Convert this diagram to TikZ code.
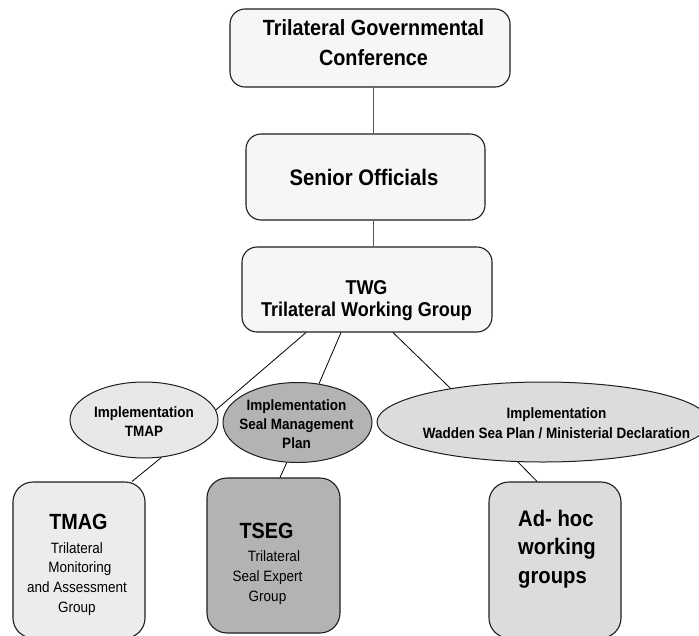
\documentclass[tikz,border=0pt]{standalone}
\usepackage{fontspec}
\setmainfont{Liberation Sans}[FakeStretch=0.9]
\usetikzlibrary{shapes.geometric}
\definecolor{boxfill}{HTML}{F6F6F6}
\definecolor{tmapfill}{HTML}{E8E8E8}
\definecolor{tmagfill}{HTML}{ECECEC}
\definecolor{sealfill}{HTML}{B3B3B3}
\definecolor{wadfill}{HTML}{DCDCDC}
\definecolor{topline}{HTML}{555555}
\definecolor{border}{HTML}{1E1E1E}
\begin{document}
\begin{tikzpicture}[x=1pt,y=-1pt,
  topbox/.style={draw=border, line width=1.1pt, rounded corners=15pt, fill=boxfill, inner sep=0pt},
  lowbox/.style={draw=border, line width=1.1pt, rounded corners=20pt, inner sep=0pt, minimum width=132pt},
  oval/.style={ellipse, draw=border, line width=1pt, inner sep=0pt},
  link/.style={line width=0.8pt, draw=black},
  toplink/.style={line width=1pt, draw=topline},
  txt/.style={anchor=base, align=center, inner sep=0pt},
  bigb/.style={font=\bfseries\fontsize{22}{30}\selectfont},
  midb/.style={font=\bfseries\fontsize{20}{21.5}\selectfont},
  smallb/.style={font=\bfseries\fontsize{15}{19}\selectfont},
  smallr/.style={font=\fontsize{15}{19.6}\selectfont}
]
\fill[white] (0,0) rectangle (699,635);
\clip (0,0) rectangle (699,635);

% boxes
\node[topbox, minimum width=280pt, minimum height=78pt] (conf) at (370,48) {};
\node[topbox, minimum width=239pt, minimum height=86pt] (sen) at (365.5,177) {};
\node[topbox, minimum width=250pt, minimum height=85pt] (twg) at (367,289.5) {};
\node[oval, fill=tmapfill, minimum width=148pt, minimum height=76pt] (tmap) at (144,420) {};
\node[oval, fill=sealfill, minimum width=149pt, minimum height=80pt] (seal) at (297.5,422.5) {};
\node[oval, fill=wadfill, minimum width=332pt, minimum height=80pt] (wad) at (543,422) {};
\node[lowbox, fill=tmagfill, minimum height=156pt] (tmag) at (79,560) {};
\node[lowbox, fill=sealfill, minimum width=133pt, minimum height=155pt] (tseg) at (273.5,555.5) {};
\node[lowbox, fill=wadfill, minimum height=156pt] (adhoc) at (555,560) {};

% connectors
\draw[toplink] ([xshift=3pt]conf.south) -- ([xshift=7.5pt]sen.north);
\draw[toplink] ([xshift=7.5pt]sen.south) -- ([xshift=6pt]twg.north);
\draw[link] ([xshift=-61pt]twg.south) -- (tmap.8);
\draw[link] ([xshift=-26pt]twg.south) -- (seal.61);
\draw[link] ([xshift=26pt]twg.south) -- (wad.160);
\draw[link] (tmap.-65) -- ([xshift=53pt]tmag.north);
\draw[link] (seal.-105) -- ([xshift=6.5pt]tseg.north);
\draw[link] (wad.-122) -- ([xshift=-18pt]adhoc.north);

% texts (anchor = baseline of the last line)
\node[txt, bigb] (conf-t) at (373.5,65) {Trilateral Governmental\\Conference};
\node[txt, font=\bfseries\fontsize{22.5}{28}\selectfont] (sen-t) at (364,185) {Senior Officials};
\node[txt, midb] (twg-t) at (366.5,316) {TWG\\Trilateral Working Group};
\node[txt, smallb] (tmap-t) at (144,436) {Implementation\\TMAP};
\node[txt, smallb] (seal-t) at (296.5,448) {Implementation\\Seal Management\\Plan};
\node[txt, font=\bfseries\fontsize{15}{20}\selectfont] (wad-t) at (556.5,438) {Implementation\hspace{19pt}\\Wadden Sea Plan / Ministerial Declaration};
\node[txt, bigb] (tmag-h) at (78.5,529) {TMAG};
\node[txt, smallr] (tmag-t) at (77,612) {Trilateral\\\hspace{6pt}Monitoring\\and Assessment\\Group};
\node[txt, bigb] (tseg-h) at (266.5,538) {TSEG};
\node[txt, smallr] (tseg-t) at (267.5,601) {\hspace{13pt}Trilateral\\Seal Expert\\Group};
\node[anchor=base west, align=left, inner sep=0pt, font=\bfseries\fontsize{22.5}{28.5}\selectfont] (adhoc-t) at (518,583) {Ad- hoc\\working\\groups};
\end{tikzpicture}
\end{document}
